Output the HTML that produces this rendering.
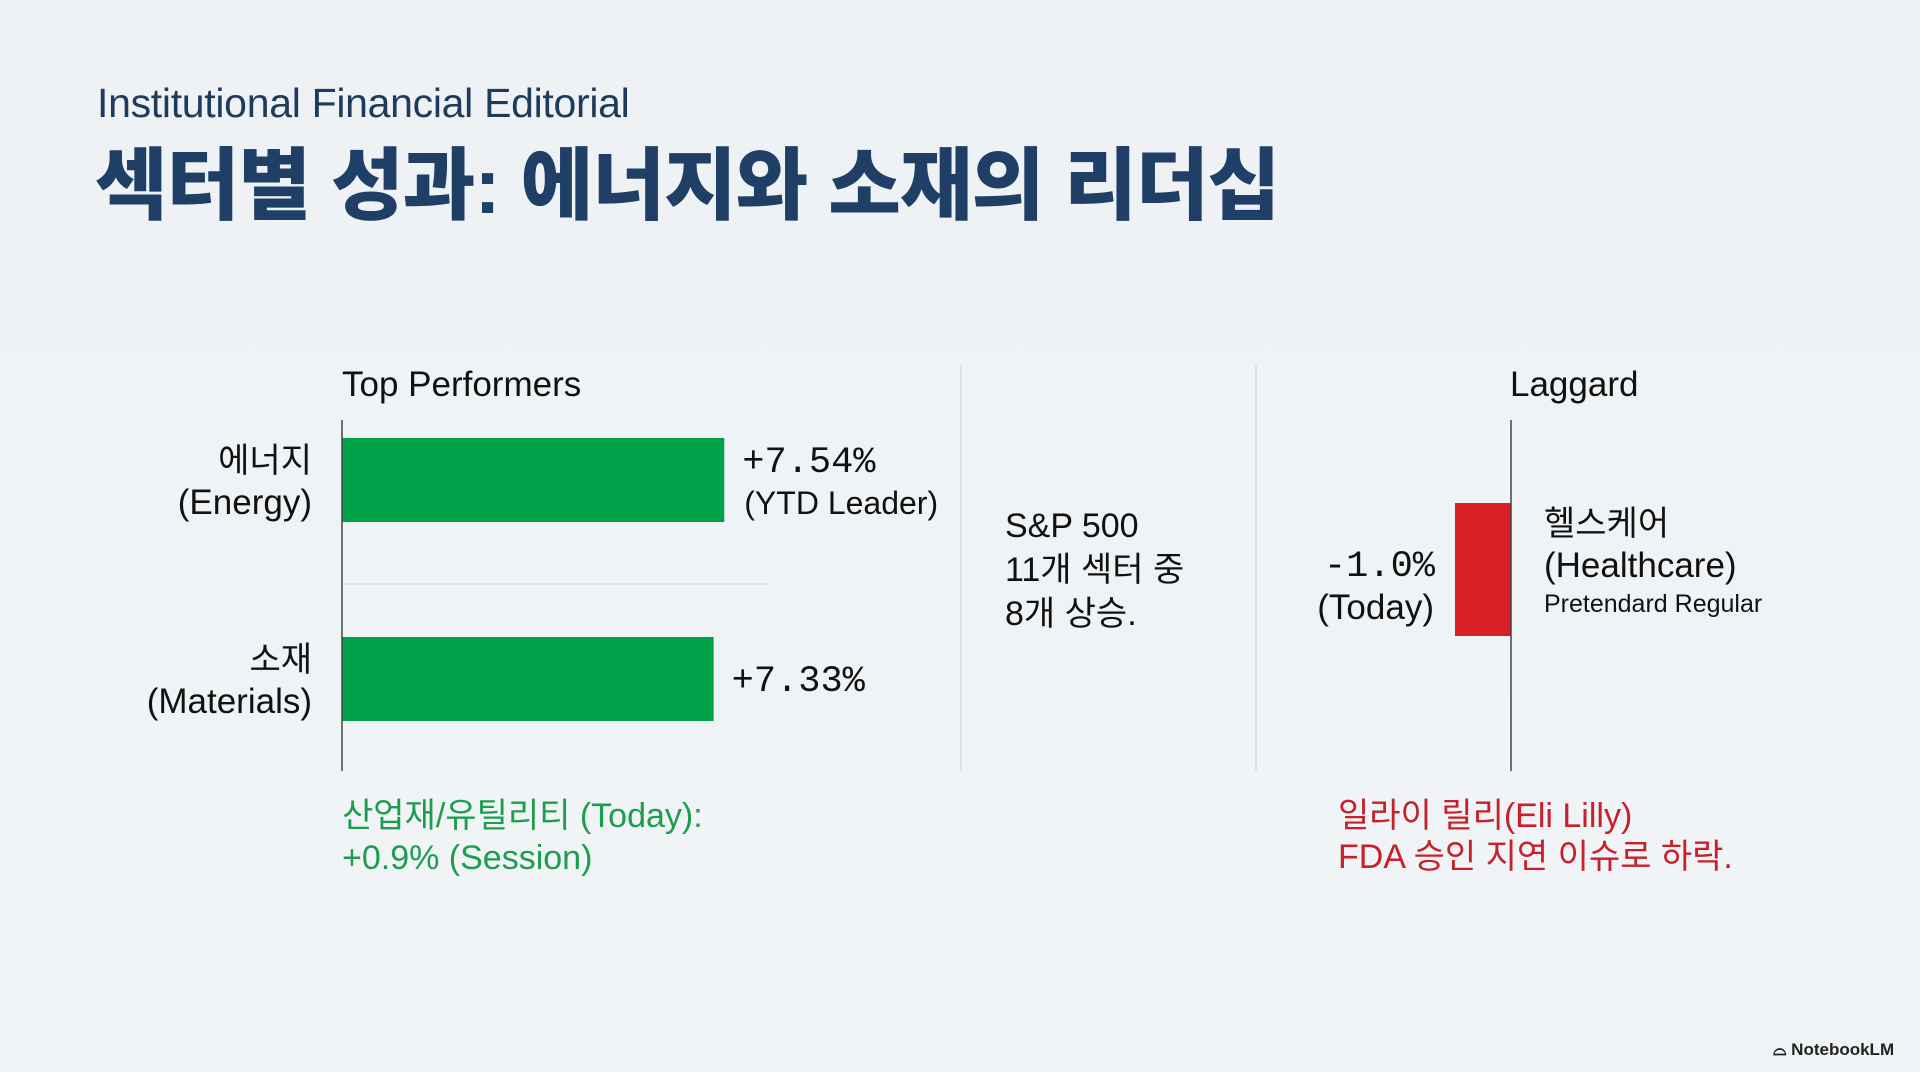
<!DOCTYPE html>
<html><head><meta charset="utf-8">
<style>
html,body{margin:0;padding:0}
body{width:1920px;height:1072px;background:linear-gradient(180deg,#eef2f5,#f1f4f6);overflow:hidden;position:relative;font-family:"Liberation Sans","Noto Sans CJK KR",sans-serif}
.t{position:absolute;white-space:nowrap}
</style></head>
<body>
<div class="t" style="left:97px;top:80px;font-size:41px;color:#1e3a5c;letter-spacing:-0.3px">Institutional Financial Editorial</div>
<div class="t" style="left:95px;top:121px;font-size:79px;font-weight:900;color:#1f3f66;letter-spacing:-1px">섹터별 성과: 에너지와 소재의 리더십</div>

<svg id="chart" width="1920" height="1072" style="position:absolute;left:0;top:0" font-family="Liberation Sans, Noto Sans CJK KR, sans-serif"></svg>

<div class="t" style="left:1773px;top:1040px;font-size:17px;font-weight:bold;color:#222">⌓ NotebookLM</div>

<script>
const topCategories = ["에너지", "소재"];
const topEnglish = ["(Energy)", "(Materials)"];
const topValues = [7.54, 7.33];
const topValueLabels = ["+7.54%", "+7.33%"];
const topNotes = ["(YTD Leader)", ""];
const lagCategories = ["헬스케어"];
const lagEnglish = ["(Healthcare)"];
const lagValues = [-1.0];
const lagValueLabels = ["-1.0%"];

const svg = document.getElementById('chart');
const NS = 'http://www.w3.org/2000/svg';
function mk(tag, attrs, text){
  const e = document.createElementNS(NS, tag);
  for (const k in attrs) e.setAttribute(k, attrs[k]);
  if (text !== undefined) e.textContent = text;
  svg.appendChild(e);
  return e;
}
const x0 = 342, pxPer = 50.7;
const xTop = v => x0 + v * pxPer;
const bandTop = i => 438 + i * 199;
const barH = 84;
const lagX0 = 1511, lagPx = 56;
const xLag = v => lagX0 + v * lagPx;

let e;
e = mk('line',{x1:961,y1:365,x2:961,y2:771,stroke:'#d6dbe0','stroke-width':1.5});


e = mk('line',{x1:1256,y1:365,x2:1256,y2:771,stroke:'#d6dbe0','stroke-width':1.5});



e = mk('text',{x:342,y:396,'font-size':35,fill:'#111'},'Top Performers');


e = mk('line',{x1:343,y1:584,x2:767,y2:584,stroke:'#dfe3e7','stroke-width':2});



topValues.forEach((v,i)=>{
  const y = bandTop(i);
  let r = mk('rect',{x:xTop(0),y:y,width:xTop(v)-xTop(0),height:barH,fill:'#00a14b'});
  
  
  let t = mk('text',{x:312,y:y+34,'font-size':34,fill:'#111','text-anchor':'end'},topCategories[i]);
  
  
  t = mk('text',{x:312,y:y+76,'font-size':35,fill:'#111','text-anchor':'end'},topEnglish[i]);
  
  
  const hasNote = topNotes[i] !== '';
  t = mk('text',{x:xTop(v)+18,y:hasNote?y+34:y+54,'font-size':37,fill:'#111','font-family':'Liberation Mono, monospace'},topValueLabels[i]);
  
  
  if (hasNote){
    t = mk('text',{x:xTop(v)+20,y:y+76,'font-size':32,fill:'#111'},topNotes[i]);
    
    
  }
});
e = mk('line',{x1:342,y1:420,x2:342,y2:771,stroke:'#444','stroke-width':1.5});



['S&P 500','11개 섹터 중','8개 상승.'].forEach((s,i)=>{
  const t = mk('text',{x:1005,y:537+i*44,'font-size':34,fill:'#111'},s);
  
  
});

e = mk('text',{x:1510,y:396,'font-size':35,fill:'#111'},'Laggard');


lagValues.forEach((v,i)=>{
  let r = mk('rect',{x:xLag(v),y:503,width:xLag(0)-xLag(v),height:133,fill:'#d91e26'});
  
  
  let t = mk('text',{x:xLag(v)-20,y:576,'font-size':37,fill:'#111','text-anchor':'end','font-family':'Liberation Mono, monospace'},lagValueLabels[i]);
  
  
  t = mk('text',{x:xLag(v)-21,y:619,'font-size':35,fill:'#111','text-anchor':'end'},'(Today)');
  
  
  t = mk('text',{x:1544,y:535,'font-size':34,fill:'#111'},lagCategories[i]);
  
  
  t = mk('text',{x:1544,y:577,'font-size':35,fill:'#111'},lagEnglish[i]);
  
  
});
e = mk('text',{x:1544,y:612,'font-size':25,fill:'#111'},'Pretendard Regular');


e = mk('line',{x1:1511,y1:420,x2:1511,y2:771,stroke:'#444','stroke-width':1.5});



[['산업재/유틸리티 (Today):',827],['+0.9% (Session)',869]].forEach(([s,y])=>{
  const t = mk('text',{x:342,y:y,'font-size':34,fill:'#1f9d4f'},s);
  
  
});
[['일라이 릴리(Eli Lilly)',827],['FDA 승인 지연 이슈로 하락.',868]].forEach(([s,y])=>{
  const t = mk('text',{x:1338,y:y,'font-size':34,fill:'#c8202a'},s);
  
  
});
</script>
</body></html>
